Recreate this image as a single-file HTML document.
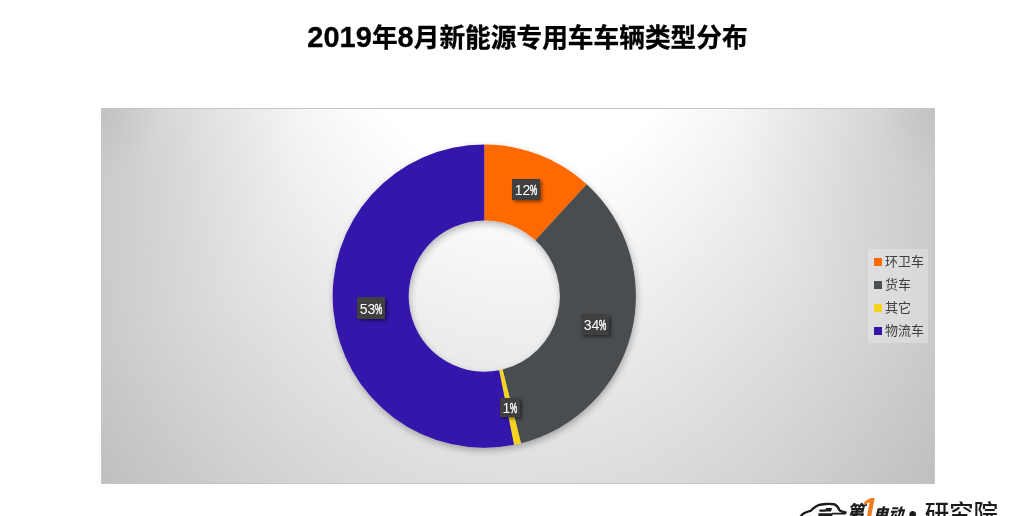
<!DOCTYPE html>
<html lang="zh-CN">
<head>
<meta charset="utf-8">
<title>2019年8月新能源专用车车辆类型分布</title>
<style>
  html, body { margin:0; padding:0; }
  body { width:1024px; height:516px; overflow:hidden; background:#fff; position:relative;
         font-family:"Liberation Sans","Noto Sans CJK SC",sans-serif; }
  .title { position:absolute; left:0; top:19px; width:1055px; -webkit-text-stroke:.3px #000; text-align:center; white-space:nowrap;
           font-size:25.7px; line-height:36px; font-weight:bold; color:#000;
           font-family:"Liberation Sans","Noto Sans CJK SC",sans-serif; }
  .title .n { font-size:29px; position:relative; top:0px; }
  .plot { position:absolute; left:101px; top:108px; width:834px; height:376px;
          border:1px solid #c6c6c6; box-sizing:border-box;
          background:
            radial-gradient(ellipse 200px 230px at 0% 0%, rgba(0,0,0,.10) 0%, rgba(0,0,0,.045) 30%, rgba(0,0,0,0) 100%),
            radial-gradient(ellipse 200px 230px at 100% 0%, rgba(0,0,0,.10) 0%, rgba(0,0,0,.045) 30%, rgba(0,0,0,0) 100%),
            radial-gradient(ellipse 590.4px 957.1px at 50% -300.8px, #ffffff 0%, #ffffff 39%, #bfbfbf 100%);
          background-origin:border-box; }
  svg.donut { position:absolute; left:0; top:0; width:1024px; height:516px; }
  .lab { position:absolute; background:#404040; color:#fff; font-size:14px; line-height:22px; height:21px;
         text-align:center; white-space:nowrap; box-shadow:2px 2px 3px rgba(0,0,0,.45);
         font-family:"Liberation Sans",sans-serif; }
  .lab .p { display:inline-block; transform:scaleX(.58); transform-origin:0 50%; width:7px; -webkit-text-stroke:.5px #fff; }
  .legend { position:absolute; left:868px; top:249px; width:60px; height:94px; background:rgba(255,255,255,.25); }
  .legend div { position:absolute; left:6px; height:23px; line-height:23px; font-size:13px; color:#404040; white-space:nowrap;
                font-family:"Liberation Sans","Noto Sans CJK SC",sans-serif; }
  .legend i { display:inline-block; width:8px; height:8px; vertical-align:middle; margin-right:3px; position:relative; top:-1px; }
  .logo { position:absolute; left:0; top:0; width:1024px; height:516px; overflow:hidden; }
</style>
</head>
<body>
<div class="title"><span class="n">2019</span>年<span class="n">8</span>月新能源专用车车辆类型分布</div>
<div class="plot"></div>
<svg class="donut" viewBox="0 0 1024 516">
  <defs>
    <filter id="sh" x="-20%" y="-20%" width="140%" height="140%">
      <feGaussianBlur in="SourceAlpha" stdDeviation="3.5"/>
      <feOffset dx="0.5" dy="3"/>
      <feComponentTransfer><feFuncA type="linear" slope="0.28"/></feComponentTransfer>
      <feMerge><feMergeNode/><feMergeNode in="SourceGraphic"/></feMerge>
    </filter>
  </defs>
  <g filter="url(#sh)">
    <path d="M484.30 144.50A151.6 151.6 0 0 1 586.72 184.33L535.37 240.36A75.6 75.6 0 0 0 484.30 220.50Z" fill="#fe6902"/>
    <path d="M586.72 184.33A151.6 151.6 0 0 1 520.98 443.20L502.59 369.45A75.6 75.6 0 0 0 535.37 240.36Z" fill="#4a4e50"/>
    <path d="M520.98 443.20A151.6 151.6 0 0 1 514.01 444.76L499.11 370.23A75.6 75.6 0 0 0 502.59 369.45Z" fill="#f6d31c"/>
    <path d="M514.01 444.76A151.6 151.6 0 1 1 484.30 144.50L484.30 220.50A75.6 75.6 0 1 0 499.11 370.23Z" fill="#3614ab"/>
  </g>
</svg>
<div class="lab" style="left:512px;top:179px;width:28px;">12<span class="p">%</span></div>
<div class="lab" style="left:581px;top:314px;width:28px;">34<span class="p">%</span></div>
<div class="lab" style="left:357px;top:297px;width:28px;height:22px;line-height:24px">53<span class="p">%</span></div>
<div class="lab" style="left:500px;top:398px;width:20px;height:19px;line-height:20px">1<span class="p">%</span></div>
<div class="legend">
  <div style="top:1px"><i style="background:#fe6902"></i>环卫车</div>
  <div style="top:24px"><i style="background:#4a4e50"></i>货车</div>
  <div style="top:47px"><i style="background:#f6d31c"></i>其它</div>
  <div style="top:70px"><i style="background:#3614ab"></i>物流车</div>
</div>
<svg class="logo" viewBox="0 0 1024 516">
  <path d="M800.3 517.5 C801.5 513.6 805 512.2 810.5 510.9 C813.5 508.6 815 506.2 818.5 505.1 C822 503.8 830 503.6 834 504.2 C837 504.8 838 507 839.3 509.8 C840.5 511.6 843 511.9 845.6 512.5" fill="none" stroke="#1c1c1c" stroke-width="2.4" stroke-linecap="round" stroke-linejoin="round"/>
  <path d="M819.4 509.6h6.2l.6-1.6h6l-1.2 3.4h-5.4l-.3.4h-5.9z" fill="#1c1c1c"/>
  <path d="M818.4 513.3h13.8v-.5h13.6v1.6h-13.4v2.1h-14z" fill="#1c1c1c"/>
  <text x="846.8" y="518.3" font-family="Liberation Sans, Noto Sans CJK SC, sans-serif" font-size="17.5" font-weight="900" font-style="italic" fill="#1c1c1c">第</text>
  <text x="860.5" y="520" font-family="Liberation Sans, sans-serif" font-size="31" font-weight="bold" font-style="italic" fill="#ee7d22">1</text>
  <text x="873.5" y="518.5" font-family="Liberation Sans, Noto Sans CJK SC, sans-serif" font-size="15" font-weight="900" font-style="italic" fill="#1c1c1c">电动</text>
  <text x="908.5" y="522" font-family="Liberation Sans, Noto Sans CJK SC, sans-serif" font-size="24" font-weight="bold" fill="#1c1c1c">•</text>
  <text x="924.8" y="521.8" font-family="Liberation Sans, Noto Sans CJK SC, sans-serif" font-size="24.4" font-weight="500" fill="#1c1c1c">研究院</text>
</svg>
</body>
</html>
